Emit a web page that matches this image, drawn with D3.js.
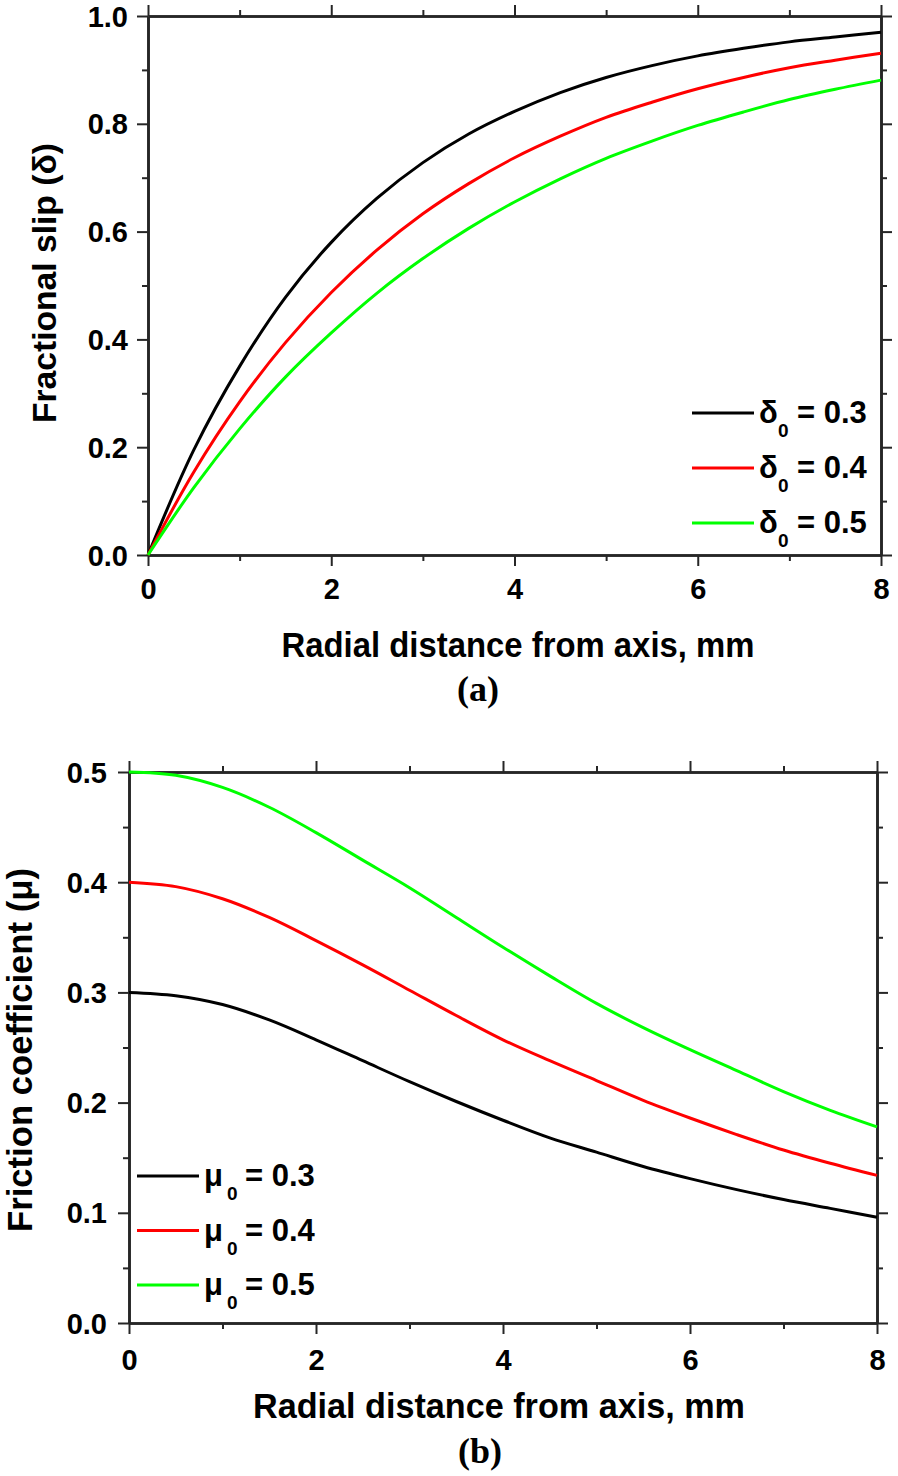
<!DOCTYPE html>
<html>
<head>
<meta charset="utf-8">
<script src="https://cdn.jsdelivr.net/npm/d3@7"></script>
<style>
  html, body { margin: 0; padding: 0; background: #fff; }
  svg { display: block; }
  text { font-family: "Liberation Sans", Arial, sans-serif; font-weight: bold; fill: #000; }
</style>
</head>
<body>
<svg id="chart" width="898" height="1476"></svg>
<script>
// ---------- data ----------
const radialDistance = [0, 0.5, 1, 1.5, 2, 2.5, 3, 3.5, 4, 4.5, 5, 5.5, 6, 6.5, 7, 7.5, 8];

// (a) fractional slip
const slipDelta03 = [0, 0.195, 0.350, 0.478, 0.580, 0.662, 0.728, 0.781, 0.823, 0.858, 0.886, 0.908, 0.926, 0.940, 0.952, 0.961, 0.970];
const slipDelta04 = [0, 0.154, 0.284, 0.394, 0.487, 0.566, 0.633, 0.689, 0.737, 0.777, 0.812, 0.840, 0.865, 0.886, 0.904, 0.918, 0.931];
const slipDelta05 = [0, 0.125, 0.234, 0.330, 0.412, 0.486, 0.550, 0.606, 0.655, 0.698, 0.736, 0.768, 0.797, 0.822, 0.845, 0.864, 0.881];

// (b) friction coefficient
const frictionMu03 = [0.300, 0.297, 0.289, 0.275, 0.257, 0.238, 0.219, 0.201, 0.184, 0.168, 0.155, 0.142, 0.131, 0.121, 0.112, 0.104, 0.096];
const frictionMu04 = [0.400, 0.396, 0.385, 0.368, 0.347, 0.325, 0.302, 0.279, 0.257, 0.238, 0.220, 0.202, 0.186, 0.171, 0.157, 0.145, 0.134];
const frictionMu05 = [0.500, 0.497, 0.486, 0.468, 0.445, 0.420, 0.395, 0.368, 0.341, 0.315, 0.290, 0.268, 0.248, 0.229, 0.210, 0.193, 0.178];

const seriesColors = ["#000000", "#ff0000", "#00ff00"];
const legendA = ["0.3", "0.4", "0.5"];
const legendB = ["0.3", "0.4", "0.5"];

const xMajorTicks = [0, 2, 4, 6, 8];
const xMinorTicks = [1, 3, 5, 7];
const aYMajorTicks = [0, 0.2, 0.4, 0.6, 0.8, 1.0];
const aYMinorTicks = [0.1, 0.3, 0.5, 0.7, 0.9];
const bYMajorTicks = [0, 0.1, 0.2, 0.3, 0.4, 0.5];
const bYMinorTicks = [0.05, 0.15, 0.25, 0.35, 0.45];

// ---------- drawing ----------
const svg = d3.select("#chart");
const AXIS_COLOR = "#262626";

function drawPanel(cfg) {
  const x = d3.scaleLinear().domain([0, 8]).range([cfg.left, cfg.right]);
  const y = d3.scaleLinear().domain(cfg.yDomain).range([cfg.bottom, cfg.top]);
  const g = svg.append("g");

  function styleAxis(sel) {
    sel.selectAll("path.domain").attr("stroke", AXIS_COLOR).attr("stroke-width", 2.6);
    sel.selectAll(".tick line").attr("stroke", AXIS_COLOR).attr("stroke-width", 2);
  }
  function styleLabels(sel) {
    sel.style("font-size", cfg.tickFont + "px")
      .style("font-family", "'Liberation Sans', Arial, sans-serif")
      .style("font-weight", "bold").attr("fill", "#000");
  }

  // bottom
  const bMaj = g.append("g").attr("transform", `translate(0,${cfg.bottom})`)
    .call(d3.axisBottom(x).tickValues(xMajorTicks).tickSize(11).tickSizeOuter(0).tickFormat(d3.format("d")));
  styleAxis(bMaj);
  styleLabels(bMaj.selectAll("text").attr("y", cfg.xLabelBaseline - cfg.bottom).attr("dy", 0));
  const bMin = g.append("g").attr("transform", `translate(0,${cfg.bottom})`)
    .call(d3.axisBottom(x).tickValues(xMinorTicks).tickSize(6).tickSizeOuter(0).tickFormat(""));
  styleAxis(bMin);

  // top
  const tMaj = g.append("g").attr("transform", `translate(0,${cfg.top})`)
    .call(d3.axisTop(x).tickValues(xMajorTicks).tickSize(11).tickSizeOuter(0).tickFormat(""));
  styleAxis(tMaj);
  const tMin = g.append("g").attr("transform", `translate(0,${cfg.top})`)
    .call(d3.axisTop(x).tickValues(xMinorTicks).tickSize(6).tickSizeOuter(0).tickFormat(""));
  styleAxis(tMin);

  // left
  const lMaj = g.append("g").attr("transform", `translate(${cfg.left},0)`)
    .call(d3.axisLeft(y).tickValues(cfg.yMajor).tickSize(11).tickSizeOuter(0).tickFormat(d3.format(".1f")));
  styleAxis(lMaj);
  styleLabels(lMaj.selectAll("text").attr("x", -(cfg.left - cfg.yLabelRight)).attr("dy", "0.35em"));
  const lMin = g.append("g").attr("transform", `translate(${cfg.left},0)`)
    .call(d3.axisLeft(y).tickValues(cfg.yMinor).tickSize(6).tickSizeOuter(0).tickFormat(""));
  styleAxis(lMin);

  // right
  const rMaj = g.append("g").attr("transform", `translate(${cfg.right},0)`)
    .call(d3.axisRight(y).tickValues(cfg.yMajor).tickSize(11).tickSizeOuter(0).tickFormat(""));
  styleAxis(rMaj);
  const rMin = g.append("g").attr("transform", `translate(${cfg.right},0)`)
    .call(d3.axisRight(y).tickValues(cfg.yMinor).tickSize(6).tickSizeOuter(0).tickFormat(""));
  styleAxis(rMin);

  // curves
  const line = d3.line()
    .x((d, i) => x(radialDistance[i]))
    .y(d => y(d))
    .curve(d3.curveCatmullRom.alpha(0.5));
  cfg.series.forEach((s, i) => {
    g.append("path").attr("d", line(s)).attr("fill", "none")
      .attr("stroke", seriesColors[i]).attr("stroke-width", 3).attr("stroke-linejoin", "round");
  });

  // x title
  g.append("text").attr("x", cfg.xTitle.cx).attr("y", cfg.xTitle.baseline)
    .attr("text-anchor", "middle").style("font-size", cfg.xTitle.size + "px")
    .attr("textLength", cfg.xTitle.len).attr("lengthAdjust", "spacingAndGlyphs")
    .text("Radial distance from axis, mm");

  // y title
  g.append("text").attr("transform", `translate(${cfg.yTitle.baselineX},${cfg.yTitle.cy}) rotate(-90)`)
    .attr("text-anchor", "middle").style("font-size", cfg.yTitle.size + "px")
    .attr("textLength", cfg.yTitle.len).attr("lengthAdjust", "spacingAndGlyphs")
    .text(cfg.yTitle.text);

  // panel label
  g.append("text").attr("x", cfg.panel.cx).attr("y", cfg.panel.baseline)
    .attr("text-anchor", "middle")
    .style("font-family", "'Liberation Serif', 'Times New Roman', serif")
    .style("font-size", "36px").style("font-weight", "bold")
    .text(cfg.panel.text);

  // legend
  cfg.legend.values.forEach((v, i) => {
    const ly = cfg.legend.y0 + i * cfg.legend.dy;
    g.append("line").attr("x1", cfg.legend.x1).attr("x2", cfg.legend.x2)
      .attr("y1", ly).attr("y2", ly)
      .attr("stroke", seriesColors[i]).attr("stroke-width", 3);
    const t = g.append("text").attr("x", cfg.legend.tx).attr("y", ly + 10)
      .style("font-size", cfg.legend.size + "px");
    t.append("tspan").text(cfg.legend.symbol);
    t.append("tspan").attr("x", cfg.legend.subX).attr("dy", 14).style("font-size", "19px").text("0");
    t.append("tspan").attr("x", cfg.legend.eqX).attr("dy", -14).text("= " + v);
  });
}

drawPanel({
  left: 148, right: 881, top: 16, bottom: 555,
  yDomain: [0, 1.0], yMajor: aYMajorTicks, yMinor: aYMinorTicks,
  tickFont: 29, xLabelBaseline: 599, yLabelRight: 128,
  series: [slipDelta03, slipDelta04, slipDelta05],
  xTitle: { cx: 518, baseline: 657, size: 35, len: 473 },
  yTitle: { baselineX: 56, cy: 283, size: 34, len: 280, text: "Fractional slip (δ)" },
  panel: { cx: 478, baseline: 701, text: "(a)" },
  legend: { values: legendA, symbol: "δ", x1: 692, x2: 754, y0: 413, dy: 55, tx: 759, subX: 778, eqX: 797, size: 31 }
});

drawPanel({
  left: 129, right: 877, top: 772, bottom: 1323,
  yDomain: [0, 0.5], yMajor: bYMajorTicks, yMinor: bYMinorTicks,
  tickFont: 29, xLabelBaseline: 1370, yLabelRight: 107,
  series: [frictionMu03, frictionMu04, frictionMu05],
  xTitle: { cx: 499, baseline: 1418, size: 35, len: 492 },
  yTitle: { baselineX: 32, cy: 1050, size: 35, len: 364, text: "Friction coefficient (μ)" },
  panel: { cx: 480, baseline: 1463, text: "(b)" },
  legend: { values: legendB, symbol: "μ", x1: 137, x2: 199, y0: 1176, dy: 54.5, tx: 204, subX: 227, eqX: 245, size: 31 }
});
</script>
</body>
</html>
